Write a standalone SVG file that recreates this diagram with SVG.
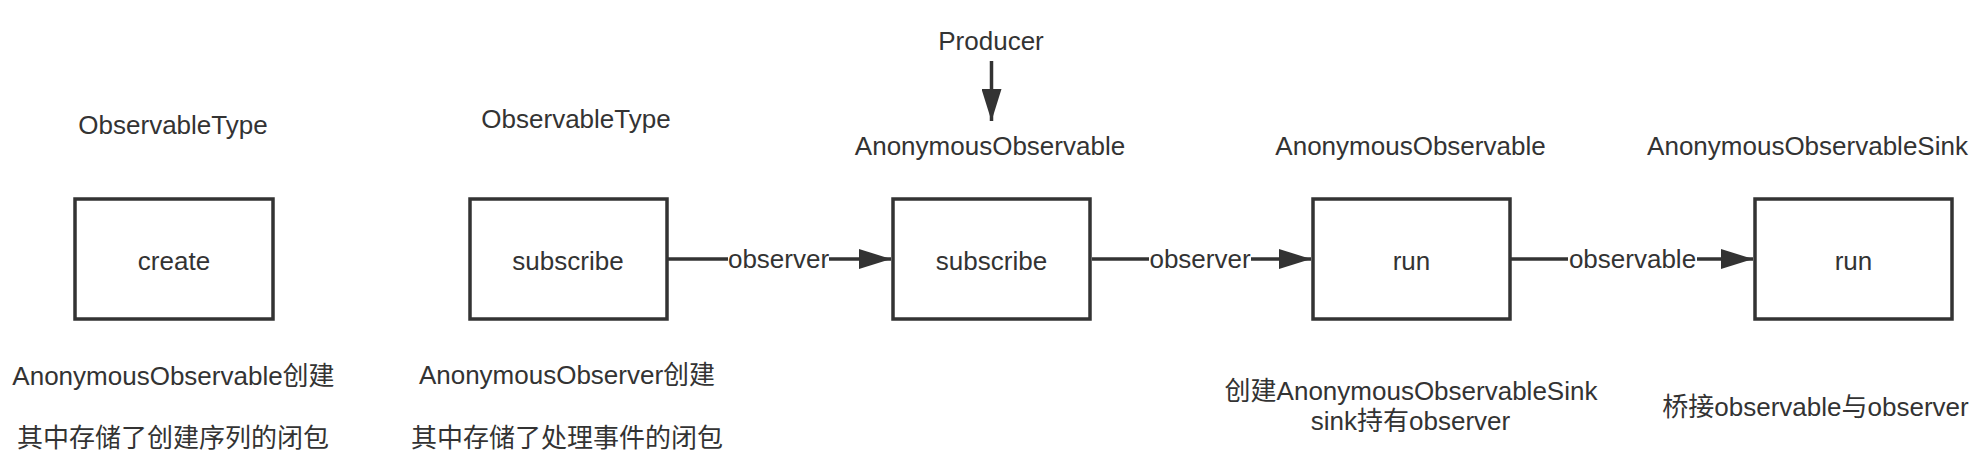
<svg xmlns="http://www.w3.org/2000/svg" width="1988" height="466" viewBox="0 0 1988 466">
<style>
.box{fill:#fff;stroke:#333;stroke-width:3.5}
.t{font-family:"Liberation Sans","Noto Sans CJK SC",sans-serif;font-size:26px;fill:#333;text-anchor:middle}
.ln{stroke:#333;stroke-width:3.5;fill:none}
</style>
<defs>
<marker id="ah" markerUnits="userSpaceOnUse" markerWidth="32" markerHeight="20" refX="32" refY="10" orient="auto">
<path d="M0,0 L32,10 L0,20 z" fill="#333"/>
</marker>
</defs>
<rect width="1988" height="466" fill="#fff"/>
<g id="connectors">
<line class="ln" x1="668" y1="259" x2="891" y2="259" marker-end="url(#ah)"/>
<rect x="728" y="245" width="101" height="28" fill="#fff"/>
<text class="t" x="778.5" y="268">observer</text>
<line class="ln" x1="1092" y1="259" x2="1311" y2="259" marker-end="url(#ah)"/>
<rect x="1149" y="245" width="102" height="28" fill="#fff"/>
<text class="t" x="1200" y="268">observer</text>
<line class="ln" x1="1511" y1="259" x2="1753" y2="259" marker-end="url(#ah)"/>
<rect x="1568" y="245" width="129" height="28" fill="#fff"/>
<text class="t" x="1632.5" y="268">observable</text>
<line class="ln" x1="991.5" y1="61" x2="991.5" y2="121" marker-end="url(#ah)"/>
</g>
<g id="node-create">
<text class="t" x="173" y="134">ObservableType</text>
<rect class="box" x="75" y="199" width="198" height="120"/>
<text class="t" x="174" y="270">create</text>
<text class="t" x="173.5" y="385">AnonymousObservable创建</text>
<text class="t" x="173" y="447">其中存储了创建序列的闭包</text>
</g>
<g id="node-subscribe1">
<text class="t" x="576" y="128">ObservableType</text>
<rect class="box" x="470" y="199" width="197" height="120"/>
<text class="t" x="568" y="270">subscribe</text>
<text class="t" x="567" y="384">AnonymousObserver创建</text>
<text class="t" x="567" y="447">其中存储了处理事件的闭包</text>
</g>
<g id="node-producer">
<text class="t" x="991" y="50">Producer</text>
</g>
<g id="node-subscribe2">
<text class="t" x="990" y="155">AnonymousObservable</text>
<rect class="box" x="893" y="199" width="197" height="120"/>
<text class="t" x="991.5" y="270">subscribe</text>
</g>
<g id="node-run1">
<text class="t" x="1410.5" y="155">AnonymousObservable</text>
<rect class="box" x="1313" y="199" width="197" height="120"/>
<text class="t" x="1411.5" y="270">run</text>
<text class="t" x="1411" y="400">创建AnonymousObservableSink</text>
<text class="t" x="1410.5" y="430">sink持有observer</text>
</g>
<g id="node-run2">
<text class="t" x="1807.5" y="155">AnonymousObservableSink</text>
<rect class="box" x="1755" y="199" width="197" height="120"/>
<text class="t" x="1853.5" y="270">run</text>
<text class="t" x="1815.5" y="416">桥接observable与observer</text>
</g>
</svg>
